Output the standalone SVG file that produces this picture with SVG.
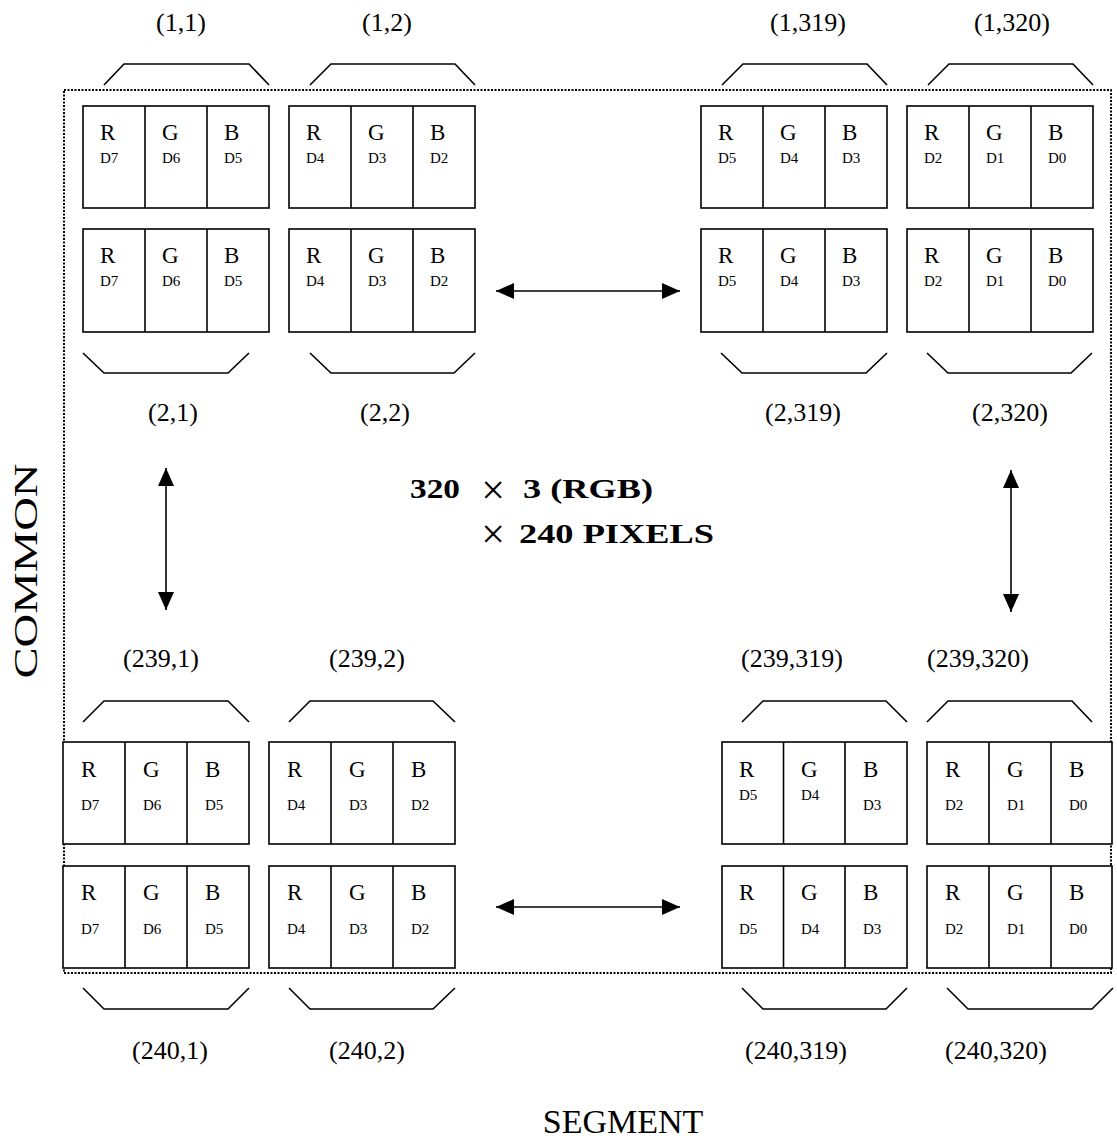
<svg xmlns="http://www.w3.org/2000/svg" width="1117" height="1142" viewBox="0 0 1117 1142">
<defs>
<style>
.cell{fill:#fff;stroke:#000;stroke-width:1.6}
.div{stroke:#000;stroke-width:1.6}
.br{fill:none;stroke:#000;stroke-width:1.6}
.big{font-family:"Liberation Serif","Times New Roman",serif;font-size:23px;fill:#000}
.sm{font-family:"Liberation Serif","Times New Roman",serif;font-size:15px;fill:#000}
.lbl{font-family:"Liberation Serif","Times New Roman",serif;font-size:26px;fill:#000;text-anchor:middle}
.bold{font-family:"Liberation Serif","Times New Roman",serif;font-size:27px;font-weight:bold;fill:#000}
.times{font-family:"Liberation Serif","Times New Roman",serif;font-size:42px;fill:#000;text-anchor:middle}
.axis{font-family:"Liberation Serif","Times New Roman",serif;font-size:34px;fill:#000}
.arr{stroke:#000;stroke-width:1.6;fill:none}
</style>
<marker id="ah" viewBox="0 0 18 16" refX="18" refY="8" markerWidth="18" markerHeight="16" markerUnits="userSpaceOnUse" orient="auto-start-reverse">
<path d="M0,0 L18,8 L0,16 z" fill="#000"/>
</marker>
</defs>
<rect width="1117" height="1142" fill="#fff"/>

<!-- outer dotted frame -->
<rect id="frame" x="64" y="90" width="1047" height="883" fill="none" stroke="#000" stroke-width="2" stroke-dasharray="2,1.5"/>

<!-- labels -->
<g id="labels">
<text class="lbl" x="181" y="31">(1,1)</text>
<text class="lbl" x="387" y="31">(1,2)</text>
<text class="lbl" x="808" y="31">(1,319)</text>
<text class="lbl" x="1012" y="31">(1,320)</text>
<text class="lbl" x="173" y="421">(2,1)</text>
<text class="lbl" x="385" y="421">(2,2)</text>
<text class="lbl" x="803" y="421">(2,319)</text>
<text class="lbl" x="1010" y="421">(2,320)</text>
<text class="lbl" x="161" y="667">(239,1)</text>
<text class="lbl" x="367" y="667">(239,2)</text>
<text class="lbl" x="792" y="667">(239,319)</text>
<text class="lbl" x="978" y="667">(239,320)</text>
<text class="lbl" x="170" y="1059">(240,1)</text>
<text class="lbl" x="367" y="1059">(240,2)</text>
<text class="lbl" x="796" y="1059">(240,319)</text>
<text class="lbl" x="996" y="1059">(240,320)</text>
</g>

<!-- brackets -->
<g id="brackets">
<polyline class="br" points="104,85 124,64 249,64 269,85"/>
<polyline class="br" points="310,85 331,64 455,64 475,85"/>
<polyline class="br" points="722,85 743,64 867,64 887,85"/>
<polyline class="br" points="928,85 949,64 1073,64 1093,85"/>
<polyline class="br" points="83,353 104,373 228,373 249,353"/>
<polyline class="br" points="310,353 331,373 454,373 475,353"/>
<polyline class="br" points="721,353 742,373 866,373 887,353"/>
<polyline class="br" points="927,353 948,373 1071,373 1092,353"/>
<polyline class="br" points="83,722 104,701 228,701 249,722"/>
<polyline class="br" points="289,722 310,701 433,701 455,722"/>
<polyline class="br" points="742,722 763,701 886,701 907,722"/>
<polyline class="br" points="927,722 948,701 1072,701 1092,722"/>
<polyline class="br" points="83,988 104,1009 228,1009 249,988"/>
<polyline class="br" points="289,988 310,1009 433,1009 455,988"/>
<polyline class="br" points="742,988 763,1009 886,1009 907,988"/>
<polyline class="br" points="947,988 968,1009 1092,1009 1113,988"/>
</g>

<!-- top row 1 -->
<g id="p1_1a"><rect class="cell" x="83" y="106" width="186" height="102"/><line class="div" x1="145" y1="106" x2="145" y2="208"/><line class="div" x1="207" y1="106" x2="207" y2="208"/>
<text class="big" x="100" y="140">R</text><text class="big" x="162" y="140">G</text><text class="big" x="224" y="140">B</text>
<text class="sm" x="100" y="163">D7</text><text class="sm" x="162" y="163">D6</text><text class="sm" x="224" y="163">D5</text></g>
<g id="p1_2a"><rect class="cell" x="289" y="106" width="186" height="102"/><line class="div" x1="351" y1="106" x2="351" y2="208"/><line class="div" x1="413" y1="106" x2="413" y2="208"/>
<text class="big" x="306" y="140">R</text><text class="big" x="368" y="140">G</text><text class="big" x="430" y="140">B</text>
<text class="sm" x="306" y="163">D4</text><text class="sm" x="368" y="163">D3</text><text class="sm" x="430" y="163">D2</text></g>
<g id="p1_319a"><rect class="cell" x="701" y="106" width="186" height="102"/><line class="div" x1="763" y1="106" x2="763" y2="208"/><line class="div" x1="825" y1="106" x2="825" y2="208"/>
<text class="big" x="718" y="140">R</text><text class="big" x="780" y="140">G</text><text class="big" x="842" y="140">B</text>
<text class="sm" x="718" y="163">D5</text><text class="sm" x="780" y="163">D4</text><text class="sm" x="842" y="163">D3</text></g>
<g id="p1_320a"><rect class="cell" x="907" y="106" width="186" height="102"/><line class="div" x1="969" y1="106" x2="969" y2="208"/><line class="div" x1="1031" y1="106" x2="1031" y2="208"/>
<text class="big" x="924" y="140">R</text><text class="big" x="986" y="140">G</text><text class="big" x="1048" y="140">B</text>
<text class="sm" x="924" y="163">D2</text><text class="sm" x="986" y="163">D1</text><text class="sm" x="1048" y="163">D0</text></g>

<!-- top row 2 -->
<g id="p2_1"><rect class="cell" x="83" y="229" width="186" height="103"/><line class="div" x1="145" y1="229" x2="145" y2="332"/><line class="div" x1="207" y1="229" x2="207" y2="332"/>
<text class="big" x="100" y="263">R</text><text class="big" x="162" y="263">G</text><text class="big" x="224" y="263">B</text>
<text class="sm" x="100" y="286">D7</text><text class="sm" x="162" y="286">D6</text><text class="sm" x="224" y="286">D5</text></g>
<g id="p2_2"><rect class="cell" x="289" y="229" width="186" height="103"/><line class="div" x1="351" y1="229" x2="351" y2="332"/><line class="div" x1="413" y1="229" x2="413" y2="332"/>
<text class="big" x="306" y="263">R</text><text class="big" x="368" y="263">G</text><text class="big" x="430" y="263">B</text>
<text class="sm" x="306" y="286">D4</text><text class="sm" x="368" y="286">D3</text><text class="sm" x="430" y="286">D2</text></g>
<g id="p2_319"><rect class="cell" x="701" y="229" width="186" height="103"/><line class="div" x1="763" y1="229" x2="763" y2="332"/><line class="div" x1="825" y1="229" x2="825" y2="332"/>
<text class="big" x="718" y="263">R</text><text class="big" x="780" y="263">G</text><text class="big" x="842" y="263">B</text>
<text class="sm" x="718" y="286">D5</text><text class="sm" x="780" y="286">D4</text><text class="sm" x="842" y="286">D3</text></g>
<g id="p2_320"><rect class="cell" x="907" y="229" width="186" height="103"/><line class="div" x1="969" y1="229" x2="969" y2="332"/><line class="div" x1="1031" y1="229" x2="1031" y2="332"/>
<text class="big" x="924" y="263">R</text><text class="big" x="986" y="263">G</text><text class="big" x="1048" y="263">B</text>
<text class="sm" x="924" y="286">D2</text><text class="sm" x="986" y="286">D1</text><text class="sm" x="1048" y="286">D0</text></g>

<!-- bottom row 1 -->
<g id="p239_1"><rect class="cell" x="63" y="742" width="186" height="102"/><line class="div" x1="125" y1="742" x2="125" y2="844"/><line class="div" x1="187" y1="742" x2="187" y2="844"/>
<text class="big" x="81" y="776.5">R</text><text class="big" x="143" y="776.5">G</text><text class="big" x="205" y="776.5">B</text>
<text class="sm" x="81" y="810">D7</text><text class="sm" x="143" y="810">D6</text><text class="sm" x="205" y="810">D5</text></g>
<g id="p239_2"><rect class="cell" x="269" y="742" width="186" height="102"/><line class="div" x1="331" y1="742" x2="331" y2="844"/><line class="div" x1="393" y1="742" x2="393" y2="844"/>
<text class="big" x="287" y="776.5">R</text><text class="big" x="349" y="776.5">G</text><text class="big" x="411" y="776.5">B</text>
<text class="sm" x="287" y="810">D4</text><text class="sm" x="349" y="810">D3</text><text class="sm" x="411" y="810">D2</text></g>
<g id="p239_319"><rect class="cell" x="722" y="742" width="185" height="102"/><line class="div" x1="783.5" y1="742" x2="783.5" y2="844"/><line class="div" x1="845" y1="742" x2="845" y2="844"/>
<text class="big" x="739" y="776.5">R</text><text class="big" x="801" y="776.5">G</text><text class="big" x="863" y="776.5">B</text>
<text class="sm" x="739" y="800">D5</text><text class="sm" x="801" y="800">D4</text><text class="sm" x="863" y="810">D3</text></g>
<g id="p239_320"><rect class="cell" x="927" y="742" width="185" height="102"/><line class="div" x1="989" y1="742" x2="989" y2="844"/><line class="div" x1="1051" y1="742" x2="1051" y2="844"/>
<text class="big" x="945" y="776.5">R</text><text class="big" x="1007" y="776.5">G</text><text class="big" x="1069" y="776.5">B</text>
<text class="sm" x="945" y="810">D2</text><text class="sm" x="1007" y="810">D1</text><text class="sm" x="1069" y="810">D0</text></g>

<!-- bottom row 2 -->
<g id="p240_1"><rect class="cell" x="63" y="866" width="186" height="102"/><line class="div" x1="125" y1="866" x2="125" y2="968"/><line class="div" x1="187" y1="866" x2="187" y2="968"/>
<text class="big" x="81" y="899.5">R</text><text class="big" x="143" y="899.5">G</text><text class="big" x="205" y="899.5">B</text>
<text class="sm" x="81" y="933.5">D7</text><text class="sm" x="143" y="933.5">D6</text><text class="sm" x="205" y="933.5">D5</text></g>
<g id="p240_2"><rect class="cell" x="269" y="866" width="186" height="102"/><line class="div" x1="331" y1="866" x2="331" y2="968"/><line class="div" x1="393" y1="866" x2="393" y2="968"/>
<text class="big" x="287" y="899.5">R</text><text class="big" x="349" y="899.5">G</text><text class="big" x="411" y="899.5">B</text>
<text class="sm" x="287" y="933.5">D4</text><text class="sm" x="349" y="933.5">D3</text><text class="sm" x="411" y="933.5">D2</text></g>
<g id="p240_319"><rect class="cell" x="722" y="866" width="185" height="102"/><line class="div" x1="783.5" y1="866" x2="783.5" y2="968"/><line class="div" x1="845" y1="866" x2="845" y2="968"/>
<text class="big" x="739" y="899.5">R</text><text class="big" x="801" y="899.5">G</text><text class="big" x="863" y="899.5">B</text>
<text class="sm" x="739" y="933.5">D5</text><text class="sm" x="801" y="933.5">D4</text><text class="sm" x="863" y="933.5">D3</text></g>
<g id="p240_320"><rect class="cell" x="927" y="866" width="185" height="102"/><line class="div" x1="989" y1="866" x2="989" y2="968"/><line class="div" x1="1051" y1="866" x2="1051" y2="968"/>
<text class="big" x="945" y="899.5">R</text><text class="big" x="1007" y="899.5">G</text><text class="big" x="1069" y="899.5">B</text>
<text class="sm" x="945" y="933.5">D2</text><text class="sm" x="1007" y="933.5">D1</text><text class="sm" x="1069" y="933.5">D0</text></g>

<!-- connectors -->
<g id="connectors">
<line class="arr" x1="496" y1="291" x2="680" y2="291" marker-start="url(#ah)" marker-end="url(#ah)"/>
<line class="arr" x1="496" y1="907" x2="680" y2="907" marker-start="url(#ah)" marker-end="url(#ah)"/>
<line class="arr" x1="166" y1="468" x2="166" y2="610" marker-start="url(#ah)" marker-end="url(#ah)"/>
<line class="arr" x1="1011" y1="470" x2="1011" y2="612" marker-start="url(#ah)" marker-end="url(#ah)"/>
</g>

<!-- center title -->
<g id="title">
<text class="bold" x="410" y="498" textLength="50" lengthAdjust="spacingAndGlyphs">320</text>
<text class="times" x="493" y="504">×</text>
<text class="bold" x="523" y="498" textLength="130" lengthAdjust="spacingAndGlyphs">3 (RGB)</text>
<text class="times" x="493" y="548">×</text>
<text class="bold" x="519" y="543" textLength="195" lengthAdjust="spacingAndGlyphs">240 PIXELS</text>
</g>

<!-- axis labels -->
<g id="axes">
<text class="axis" transform="translate(37,571) rotate(-90)" text-anchor="middle" textLength="215" lengthAdjust="spacingAndGlyphs">COMMON</text>
<text class="axis" x="623" y="1133" text-anchor="middle">SEGMENT</text>
</g>
</svg>
